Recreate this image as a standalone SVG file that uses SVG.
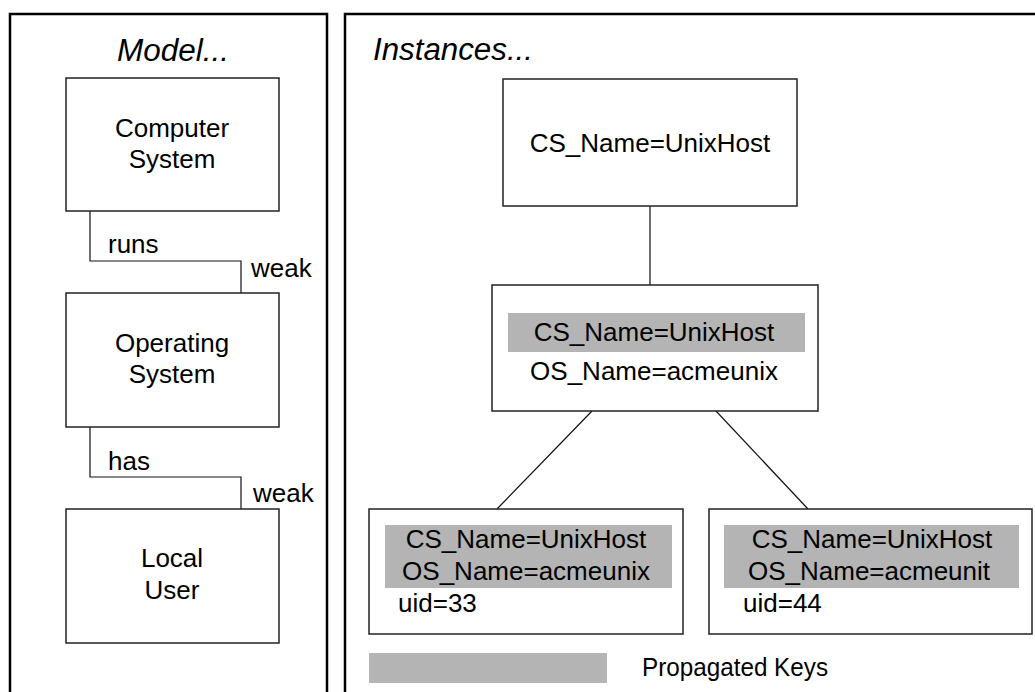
<svg xmlns="http://www.w3.org/2000/svg" width="1035" height="692" viewBox="0 0 1035 692">
<style>
text{font-family:"Liberation Sans",Arial,sans-serif;fill:#000}
.t{font-size:26px}
.c{text-anchor:middle}
.h{font-size:31px;font-style:italic}
.box{fill:#fff;stroke:#222;stroke-width:1.5}
.panel{fill:none;stroke:#000;stroke-width:2.5}
.key{fill:#b4b4b4}
.ln{fill:none;stroke:#111;stroke-width:1.2}
</style>
<rect width="1035" height="692" fill="#fff"/>
<g id="panel-model">
<rect class="panel" x="10" y="14" width="317" height="700"/>
<text class="h c" x="173" y="61" textLength="112" lengthAdjust="spacingAndGlyphs">Model...</text>
</g>
<g id="panel-instances">
<rect class="panel" x="345" y="14" width="720" height="700"/>
<text class="h" x="373" y="60" textLength="160" lengthAdjust="spacingAndGlyphs">Instances...</text>
</g>
<g id="connectors">
<polyline class="ln" points="90,211 90,261 241,261 241,293"/>
<polyline class="ln" points="90,427 90,477 241,477 241,509"/>
<line class="ln" x1="650" y1="206" x2="650" y2="285"/>
<line class="ln" x1="592" y1="411" x2="497" y2="509"/>
<line class="ln" x1="716" y1="411" x2="808" y2="509"/>
<text class="t" x="108" y="253">runs</text>
<text class="t" x="251" y="277">weak</text>
<text class="t" x="108" y="470">has</text>
<text class="t" x="253" y="502">weak</text>
</g>
<g id="computer-system">
<rect class="box" x="66" y="78" width="213" height="133"/>
<text class="t c" x="172" y="137">Computer</text>
<text class="t c" x="172" y="168">System</text>
</g>
<g id="operating-system">
<rect class="box" x="66" y="293" width="213" height="134"/>
<text class="t c" x="172" y="352">Operating</text>
<text class="t c" x="172" y="383">System</text>
</g>
<g id="local-user">
<rect class="box" x="66" y="509" width="213" height="134"/>
<text class="t c" x="172" y="567">Local</text>
<text class="t c" x="172" y="599">User</text>
</g>
<g id="cs-instance">
<rect class="box" x="503" y="79" width="294" height="127"/>
<text class="t c" x="650" y="152">CS_Name=UnixHost</text>
</g>
<g id="os-instance">
<rect class="box" x="492" y="285" width="326" height="126"/>
<rect class="key" x="508" y="313" width="297" height="39"/>
<text class="t c" x="654" y="341">CS_Name=UnixHost</text>
<text class="t c" x="654" y="380">OS_Name=acmeunix</text>
</g>
<g id="user-33">
<rect class="box" x="369" y="509" width="314" height="125"/>
<rect class="key" x="385" y="525" width="287" height="63"/>
<text class="t c" x="526" y="548">CS_Name=UnixHost</text>
<text class="t c" x="526" y="580">OS_Name=acmeunix</text>
<text class="t" x="398" y="612">uid=33</text>
</g>
<g id="user-44">
<rect class="box" x="709" y="509" width="323" height="125"/>
<rect class="key" x="724" y="525" width="295" height="63"/>
<text class="t c" x="872" y="548">CS_Name=UnixHost</text>
<text class="t c" x="869" y="580">OS_Name=acmeunit</text>
<text class="t" x="743" y="612">uid=44</text>
</g>
<g id="legend">
<rect class="key" x="369" y="653" width="238" height="30"/>
<text class="t" x="642" y="676" font-size="26" textLength="186" lengthAdjust="spacingAndGlyphs">Propagated Keys</text>
</g>
</svg>
